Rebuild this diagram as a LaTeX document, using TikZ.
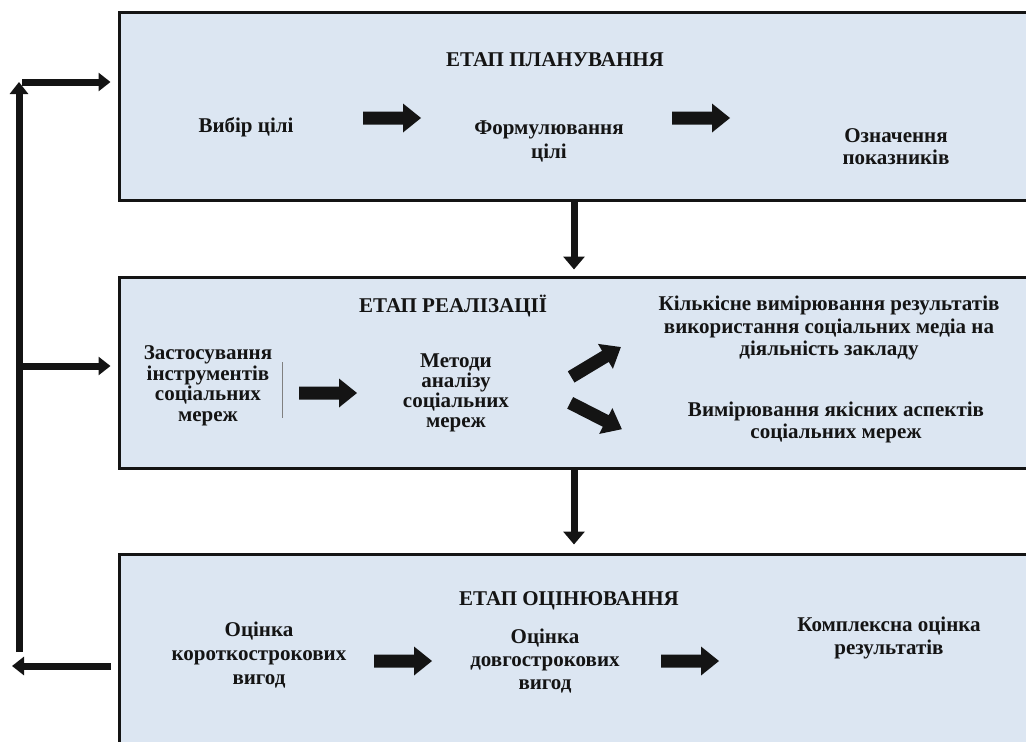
\documentclass[tikz,border=0pt]{standalone}
\usepackage{fontspec}
\setmainfont{Liberation Serif}
\usetikzlibrary{arrows.meta,calc}
\definecolor{boxfill}{RGB}{220,230,242}
\definecolor{ink}{RGB}{20,20,20}
\tikzset{
  stage/.style={draw=ink, line width=3pt, fill=boxfill, inner sep=0pt},
  txt/.style={font=\fontsize{21}{23}\selectfont\bfseries, align=center, inner sep=0pt, text=ink},
  conn/.style={draw=ink, line width=7pt, -{Triangle[width=21pt,length=13pt]}},
  loopline/.style={draw=ink, line width=7pt, -{Triangle[width=18pt,length=12pt]}},
  barrow/.pic={\fill[ink] (-29,-6.5) -- (11,-6.5) -- (11,-14.5) -- (29,0) -- (11,14.5) -- (11,6.5) -- (-29,6.5) -- cycle;}
}
\begin{document}
\begin{tikzpicture}[x=1pt,y=-1pt]
\useasboundingbox (0,0) rectangle (1026,742);
% stage boxes
\node[stage, minimum width=910pt, minimum height=188pt] (box1) at (574,106) {};
\node[stage, minimum width=910pt, minimum height=191pt] (box2) at (574,372.5) {};
\node[stage, minimum width=910pt, minimum height=216pt] (box3) at (574,662) {};

% planning stage
\node[txt] (t1) at (555,60) {ЕТАП ПЛАНУВАННЯ};
\node[txt] (a1) at (246,127) {Вибір цілі};
\node[txt, font=\fontsize{21}{24}\selectfont\bfseries] (a2) at (549,141) {Формулювання\\цілі};
\node[txt, font=\fontsize{21}{22}\selectfont\bfseries] (a3) at (896,147) {Означення\\показників};
\pic at (392,118) {barrow};
\pic at (701,118) {barrow};

% implementation stage
\node[txt] (t2) at (453,306) {ЕТАП РЕАЛІЗАЦІЇ};
\node[txt, font=\fontsize{21}{20.5}\selectfont\bfseries] (b1) at (208,386) {Застосування\\інструментів\\соціальних\\мереж};
\draw[gray, line width=0.8pt] (282,362) -- (282,418);
\node[txt, font=\fontsize{21}{20}\selectfont\bfseries] (b2) at (456,393) {Методи\\аналізу\\соціальних\\мереж};
\node[txt, font=\fontsize{21}{22.5}\selectfont\bfseries] (b3) at (829,328) {Кількісне вимірювання результатів\\використання соціальних медіа на\\діяльність закладу};
\node[txt, font=\fontsize{21}{22}\selectfont\bfseries] (b4) at (836,422) {Вимірювання якісних аспектів\\соціальних мереж};
\pic at (328,393) {barrow};
\pic[rotate=31] at (596,362) {barrow};
\pic[rotate=-27] at (596,416) {barrow};

% evaluation stage
\node[txt] (t3) at (569,601) {ЕТАП ОЦІНЮВАННЯ};
\node[txt, font=\fontsize{21}{24}\selectfont\bfseries] (c1) at (259,655) {Оцінка\\короткострокових\\вигод};
\node[txt, font=\fontsize{21}{23}\selectfont\bfseries] (c2) at (545,661) {Оцінка\\довгострокових\\вигод};
\node[txt, font=\fontsize{21}{23}\selectfont\bfseries] (c3) at (889,638) {Комплексна оцінка\\результатів};
\pic at (403,661) {barrow};
\pic at (690,661) {barrow};

% stage connectors
\draw[conn, shorten >=6pt] (box1.south) -- (box2.north);
\draw[conn, shorten >=8pt] (box2.south) -- (box3.north);

% feedback loop
\coordinate (lbot) at (19,652);
\coordinate (ltop) at (19,82);
\coordinate (lt1) at (22,82);
\coordinate (lmid) at (19,366);
\coordinate (lout) at (12,666);
\draw[loopline] (lbot) -- (ltop);
\draw[loopline, shorten >=7pt] (lt1) -- (lt1 -| box1.west);
\draw[loopline, shorten >=7pt] (lmid) -- (lmid -| box2.west);
\draw[loopline, shorten <=7pt] (lout -| box3.west) -- (lout);
\end{tikzpicture}
\end{document}
